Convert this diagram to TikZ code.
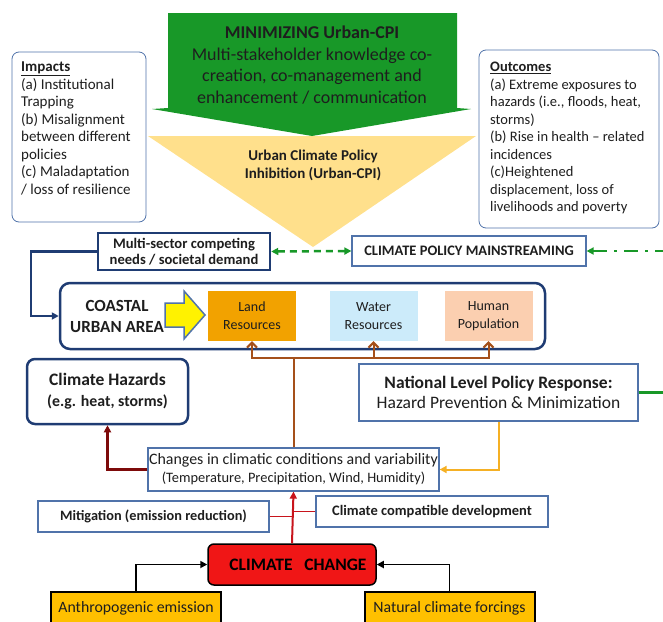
\documentclass[tikz,border=0pt]{standalone}
\usepackage{fontspec}
\setmainfont{Carlito}
\usetikzlibrary{arrows.meta}

\definecolor{mingreen}{RGB}{24,152,40}
\definecolor{cpiyellow}{RGB}{255,224,140}
\definecolor{navy}{RGB}{31,60,115}
\definecolor{softblue}{RGB}{80,115,170}
\definecolor{landorange}{RGB}{242,162,0}
\definecolor{waterblue}{RGB}{204,235,250}
\definecolor{peach}{RGB}{251,207,176}
\definecolor{brownline}{RGB}{165,80,26}
\definecolor{darkred}{RGB}{125,10,10}
\definecolor{goldline}{RGB}{245,176,36}
\definecolor{redline}{RGB}{200,20,28}
\definecolor{ccred}{RGB}{240,22,22}
\definecolor{forcegold}{RGB}{255,192,0}
\definecolor{ink}{RGB}{30,30,30}

\newcommand{\fsz}[2]{\fontsize{#1}{#2}\selectfont}

\begin{document}
\begin{tikzpicture}[x=1pt,y=-1pt,
    >={Triangle[length=7pt,width=7pt]},
    every node/.style={inner sep=0pt, align=center, text=ink},
    sidebox/.style={draw=softblue, line width=0.8pt, rounded corners=7pt, fill=white},
    thinbox/.style={draw=softblue, line width=1.2pt, fill=white},
    navybox/.style={draw=navy, line width=2.5pt, fill=white},
    resbox/.style={minimum width=88pt, minimum height=50pt, font=\fsz{14}{18}},
    forcebox/.style={draw=black, line width=2pt, fill=forcegold, minimum width=170pt, minimum height=32pt, font=\fsz{15.8}{18}}]
    \clip (0,0) rectangle (663,621);

    \fill[cpiyellow] (148,136) -- (476,136) -- (313,247) -- cycle;
    \fill[mingreen] (168,13) -- (457,13) -- (457,108) -- (471,109) -- (312,136)
        -- (152,109) -- (168,108) -- cycle;
    \node (minimize) at (312,65) [font=\fsz{18}{21.5}]
        {\textbf{MINIMIZING Urban-CPI}\\Multi-stakeholder knowledge co-\\creation, co-management and\\enhancement / communication};
    \node (inhibition) at (313,165) [font=\bfseries\fsz{15}{18}]
        {Urban Climate Policy\\Inhibition (Urban-CPI)};

    \node (impacts) [sidebox, minimum width=134pt, minimum height=170pt] at (79,137) {};
    \node (impactstext) [anchor=north west, align=left, font=\fsz{15}{17.5}] at (21,62)
        {\underline{\textbf{Impacts}}\\(a) Institutional\\Trapping\\(b) Misalignment\\between different\\policies\\(c) Maladaptation\\/ loss of resilience};
    \node (outcomes) [sidebox, minimum width=180pt, minimum height=178pt] at (569,139) {};
    \node (outcomestext) [anchor=north west, align=left, font=\fsz{14.5}{17.5}] at (490,62)
        {\underline{\textbf{Outcomes}}\\(a) Extreme exposures to\\hazards (i.e., floods, heat,\\storms)\\(b) Rise in health -- related\\incidences\\(c)Heightened\\displacement, loss of\\livelihoods and poverty};

    \node (demand) [navybox, minimum width=172pt, minimum height=37pt, font=\bfseries\fsz{14.6}{16}] at (184,251.5)
        {Multi-sector competing\\needs / societal demand};
    \node (mainstream) [thinbox, minimum width=234pt, minimum height=30pt, font=\bfseries\fsz{14.5}{16}] at (469,251)
        {CLIMATE POLICY MAINSTREAMING};

    \node (coastal) [navybox, rounded corners=10pt, minimum width=485pt, minimum height=66pt] at (302.5,316) {};
    \node (coastaltext) at (117,316) [font=\bfseries\fsz{17}{21}] {COASTAL\\URBAN AREA};
    \draw[fill=yellow, draw=softblue, line width=1.5pt, line join=miter]
        (165,303) -- (184,303) -- (184,291) -- (205,315) -- (184,339) -- (184,327) -- (165,327) -- cycle;
    \node (land) [resbox, fill=landorange] at (252,316) {Land\\Resources};
    \node (water) [resbox, fill=waterblue] at (373.5,316) {Water\\Resources};
    \node (human) [resbox, fill=peach] at (488.5,316) {Human\\Population};

    \node (hazards) [navybox, rounded corners=8pt, minimum width=161pt, minimum height=65pt, font=\bfseries\fsz{15.8}{21}] at (107.5,391.5)
        {{\fsz{17.5}{21}Climate Hazards}\\(e.g. heat, storms)};
    \node (national) [thinbox, minimum width=279pt, minimum height=57pt, font=\fsz{17.5}{20}] at (498.5,392.5)
        {\textbf{National Level Policy Response:}\\Hazard Prevention \& Minimization};

    \node (changes) [thinbox, minimum width=291pt, minimum height=43pt, font=\fsz{14.4}{18}] at (293.5,469.5)
        {{\fsz{15.9}{18}Changes in climatic conditions and variability}\\(Temperature, Precipitation, Wind, Humidity)};
    \node (mitigation) [thinbox, minimum width=231pt, minimum height=31pt, font=\bfseries\fsz{14.3}{16}] at (153.5,516.5)
        {Mitigation (emission reduction)};
    \node (compatible) [thinbox, minimum width=232pt, minimum height=31pt, font=\bfseries\fsz{14.5}{16}] at (432,511.5)
        {Climate compatible development};

    \node (change) [draw=black, line width=1.5pt, fill=ccred, rounded corners=6pt, minimum width=168pt, minimum height=41pt] at (292,564.5) {};
    \node (changetext) at (298,564.5) [font=\bfseries\fsz{17.5}{20}, text=black] {CLIMATE \ \ CHANGE};
    \node (anthro) [forcebox] at (136,608) {Anthropogenic emission};
    \node (natural) [forcebox] at (449.5,608) {Natural climate forcings};

    \draw[navy, line width=2.5pt, ->] (demand.west) -- ++(-66,0) |- (coastal.west);
    \draw[mingreen, line width=2.5pt, dash pattern=on 7pt off 5pt, <->] (demand.east) -- (mainstream.west);
    \draw[mingreen, line width=2.5pt, dash pattern=on 14pt off 7pt on 3pt off 7pt, <-] (mainstream.east) -- ++(90,0);
    \draw[mingreen, line width=2.5pt] (national.east) -- ++(40,0);

    \draw[brownline, line width=2pt] (changes.north) -- ++(0,-89) coordinate (split);
    \foreach \res in {land,water,human}
        \draw[brownline, line width=2pt, -{Straight Barb[length=5pt,width=10pt]}] (split) -| (\res.south);

    \draw[darkred, line width=2.2pt, ->] (changes.west) -| (hazards.south);
    \draw[goldline, line width=2pt, ->] (national.south) |- (changes.east);

    \draw[redline, line width=2pt, ->] (change.north) -- (changes.south);
    \draw[redline, line width=1.8pt] (mitigation.east) -- (mitigation.east -| change.north);
    \draw[redline, line width=1.8pt] (compatible.west) -- (compatible.west -| change.north);

    \draw[black, line width=1.8pt, ->] (anthro.north) |- (change.west);
    \draw[black, line width=1.8pt, ->] (natural.north) |- (change.east);
\end{tikzpicture}
\end{document}
